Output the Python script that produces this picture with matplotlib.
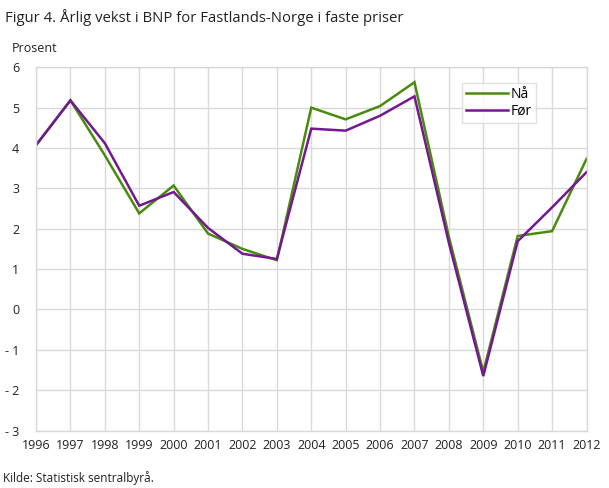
import matplotlib
matplotlib.use("Agg")
import matplotlib.pyplot as plt
from matplotlib.ticker import FixedLocator

plt.rcParams["font.family"] = ["Open Sans", "DejaVu Sans"]

years = list(range(1996, 2013))
naa = [4.07, 5.18, 3.82, 2.38, 3.07, 1.88, 1.50, 1.22, 5.00, 4.71, 5.04, 5.63, 1.80, -1.55, 1.82, 1.94, 3.73]
foer = [4.07, 5.18, 4.12, 2.57, 2.91, 2.02, 1.38, 1.25, 4.48, 4.43, 4.80, 5.28, 1.65, -1.65, 1.69, 2.53, 3.40]
y_ticks = [6, 5, 4, 3, 2, 1, 0, -1, -2, -3]
y_labels = ["6", "5", "4", "3", "2", "1", "0", "- 1", "- 2", "- 3"]

green = "#4a8a0c"
purple = "#72198f"
grid = "#d9d9d9"

fig = plt.figure(figsize=(6.09, 4.88), dpi=100)
ax = fig.add_axes([36 / 609, 1 - 430.5 / 488, (586.5 - 36) / 609, (430.5 - 67.3) / 488])

ax.plot(years, naa, color=green, lw=1.8, label="Nå", solid_joinstyle="miter")
ax.plot(years, foer, color=purple, lw=1.8, label="Før", solid_joinstyle="miter")

ax.set_xlim(1996, 2012)
ax.set_ylim(-3, 6)
ax.xaxis.set_major_locator(FixedLocator(years))
ax.set_xticklabels([str(y) for y in years])
ax.set_yticks(y_ticks)
ax.set_yticklabels(y_labels)
ax.grid(True, color=grid, lw=1)
ax.set_axisbelow(True)
for s in ax.spines.values():
    s.set_color(grid)
    s.set_linewidth(1)
ax.tick_params(axis="both", length=0, labelsize=9, colors="#222222")
ax.tick_params(axis="y", pad=12)
ax.tick_params(axis="x", pad=6)

leg = ax.legend(loc="upper left", bbox_to_anchor=(462 / 609, 1 - 83 / 488),
                bbox_transform=fig.transFigure, frameon=True, fancybox=False,
                fontsize=10, handlelength=3.0, handletextpad=0.2,
                borderpad=0.3, labelspacing=0.1, borderaxespad=0)
leg.get_frame().set_edgecolor(grid)
leg.get_frame().set_linewidth(1)

fig.text(5 / 609, 1 - 17 / 488, "Figur 4. Årlig vekst i BNP for Fastlands-Norge i faste priser",
         fontsize=10.7, va="center", ha="left", color="#222222")
fig.text(12 / 609, 1 - 48 / 488, "Prosent", fontsize=9, va="center", ha="left", color="#222222")
fig.text(3 / 609, 1 - 478 / 488, "Kilde: Statistisk sentralbyrå.", fontsize=8.5, va="center",
         ha="left", color="#222222")

fig.savefig("out.png", dpi=100)
